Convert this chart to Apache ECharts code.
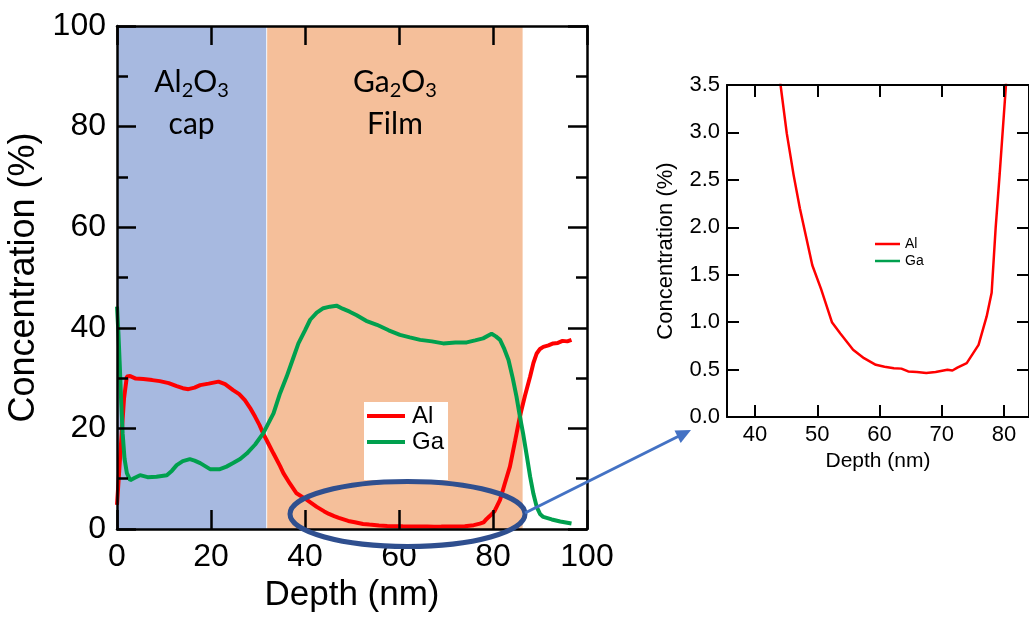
<!DOCTYPE html>
<html>
<head>
<meta charset="utf-8">
<title>Depth profile</title>
<script src="https://cdn.jsdelivr.net/npm/echarts@6.0.0/dist/echarts.min.js"></script>
<style>
  html, body { margin: 0; padding: 0; background: #fff; }
  #chart { width: 1029px; height: 618px; }
</style>
</head>
<body>
<div id="chart"></div>
<script>
// Al profile (depth nm, concentration %)
const alDepth = [0.0, 0.5, 1.0, 1.5, 2.1, 2.8, 4.0, 5.6, 7.5, 9.1, 11.0, 12.7, 14.0, 15.2, 16.5, 17.7, 19.5, 21.6, 23.0, 24.7,
  26.0, 27.2, 28.3, 29.4, 30.3, 31.1, 32.2, 33.3, 34.7, 35.4, 36.8, 38.2, 40.4, 42.5, 44.1, 45.1, 46.2, 47.2, 48.2, 49.2,
  50.6, 52.35, 53.7, 55.75, 57.5, 59.4, 60.8, 62.3, 63.5, 64.6, 66.0, 67.5, 69.0, 70.9, 71.7, 72.5, 74.0, 75.9, 77.2, 78.0,
  78.65, 79.3, 80.3, 81.5, 82.5, 83.6, 84.7, 85.7, 86.8, 87.9, 88.6, 89.3, 90.0, 90.7, 91.8, 92.8, 93.8, 94.8, 95.8, 96.7]
const alConc = [4.8, 12, 19, 26, 30.3, 30.4, 29.9, 29.8, 29.6, 29.4, 29.0, 28.4, 28.0, 27.8, 28.1, 28.6, 28.9, 29.3, 28.8, 27.6,
  26.8, 25.6, 24.1, 22.3, 20.7, 19.0, 17.0, 15.0, 12.5, 11.1, 9.0, 7.1, 5.8, 4.4, 3.5, 2.99, 2.55, 2.2, 1.9, 1.6,
  1.35, 1.0, 0.88, 0.71, 0.62, 0.55, 0.53, 0.515, 0.51, 0.48, 0.475, 0.463, 0.475, 0.498, 0.49, 0.52, 0.568, 0.76, 1.06, 1.31,
  2.0, 2.57, 3.5, 5.8, 9.0, 12.4, 17.5, 22.3, 26.5, 30.3, 33.0, 34.9, 35.8, 36.2, 36.5, 36.9, 37.0, 37.4, 37.3, 37.6]

// Ga profile
const gaDepth = [0.0, 0.3, 0.6, 0.9, 1.2, 1.6, 2.1, 2.8, 3.8, 4.9, 6.5, 8.4, 10.6, 11.7, 12.7, 14.0, 15.5, 16.5, 17.7, 19.8,
  21.9, 23.3, 24.7, 26.2, 27.6, 29.4, 31.1, 32.2, 33.3, 34.7, 36.1, 37.5, 38.6, 40.0, 41.1, 42.5, 43.9, 45.3, 46.7, 48.0,
  49.5, 51.0, 53.0, 55.3, 57.8, 60.2, 62.3, 64.5, 67.0, 69.4, 72.0, 74.4, 76.2, 77.9, 79.7, 80.6, 81.5, 82.4, 83.3, 84.2,
  85.0, 85.7, 86.4, 87.2, 87.9, 88.6, 89.3, 90.0, 90.7, 92.5, 94.3, 95.5, 96.7]
const gaConc = [44.2, 39, 32.3, 25, 19, 14, 11.1, 9.7, 10.2, 10.7, 10.3, 10.4, 10.7, 11.6, 12.7, 13.5, 13.9, 13.6, 13.1, 11.9,
  11.9, 12.4, 13.1, 13.9, 15.0, 16.8, 19.0, 21.0, 23.0, 27.0, 30.3, 34.0, 36.9, 39.5, 41.6, 43.0, 43.9, 44.2, 44.4, 43.8,
  43.2, 42.5, 41.4, 40.6, 39.5, 38.6, 38.1, 37.6, 37.3, 36.9, 37.1, 37.1, 37.5, 37.9, 38.8, 38.3, 37.6, 35.8, 33.6, 30.0,
  26.3, 22.5, 19.0, 14.5, 10.4, 7.0, 4.4, 3.0, 2.4, 1.9, 1.5, 1.3, 1.1]

// layer boundaries (nm)
const capLayer = [0, 31.75]
const filmLayer = [31.95, 86.3]
const insetTicks = [40, 50, 60, 70, 80]

const RED = '#ff0000'
const GREEN = '#00a04e'
const FONT = '"Liberation Sans", Arial, sans-serif'
const LABEL_FONT = 'Lato, "Open Sans", sans-serif'

const zip = (xs, ys) => xs.map((x, i) => [x, ys[i]])
const alData = zip(alDepth, alConc)
const gaData = zip(gaDepth, gaConc)

// "X2O3" with subscripts, second line underneath
const bandLabel = (metal, second) => ({
  show: true,
  position: 'insideTop',
  distance: 35,
  formatter: `{n|${metal}}{s|2}{n|O}{s|3}\n{n|${second}}`,
  rich: {
    n: { fontSize: 30, lineHeight: 42, fontFamily: LABEL_FONT, color: '#000' },
    s: { fontSize: 20, padding: [18, 0, 0, 0], fontFamily: LABEL_FONT, color: '#000' }
  }
})

const frameLine = (w) => ({ show: true, onZero: false, lineStyle: { color: '#000', width: w } })

const chart = echarts.init(document.getElementById('chart'), null, { renderer: 'canvas' })

const option = {
  animation: false,
  backgroundColor: '#fff',
  textStyle: { fontFamily: FONT, color: '#000' },
  grid: [
    { left: 117, top: 26, width: 470, height: 503 },
    { left: 727, top: 85, width: 309, height: 332 }
  ],
  legend: [
    {
      data: [{ name: 'Al', icon: 'rect' }, { name: 'Ga', icon: 'rect' }],
      orient: 'vertical',
      left: 364,
      top: 402,
      backgroundColor: '#fff',
      padding: [2, 4, 26, 3],
      itemWidth: 38,
      itemHeight: 4,
      itemGap: 2,
      textStyle: { fontSize: 24, lineHeight: 24, fontFamily: FONT, color: '#000', padding: [0, 0, 0, 2] },
      selectedMode: false
    },
    {
      data: [{ name: 'Al', icon: 'rect' }, { name: 'Ga', icon: 'rect' }],
      orient: 'vertical',
      left: 875,
      top: 237,
      padding: 0,
      itemWidth: 25,
      itemHeight: 2.5,
      itemGap: 3,
      textStyle: { fontSize: 14, lineHeight: 14, fontFamily: FONT, color: '#000' },
      selectedMode: false
    }
  ],
  xAxis: [
    {
      gridIndex: 0, type: 'value', min: 0, max: 100, interval: 20, position: 'bottom', z: 5,
      name: 'Depth (nm)', nameLocation: 'middle', nameGap: 40,
      nameTextStyle: { fontSize: 35, fontFamily: FONT, color: '#000' },
      axisLine: frameLine(2.5),
      axisTick: { inside: true, length: 19, lineStyle: { color: '#000', width: 2.5 } },
      axisLabel: { fontSize: 32, margin: 12, color: '#000', fontFamily: FONT },
      splitLine: { show: false }
    },
    {
      gridIndex: 0, type: 'value', min: 0, max: 100, interval: 20, position: 'top', z: 5,
      axisLine: frameLine(2.5),
      axisTick: { inside: true, length: 19, lineStyle: { color: '#000', width: 2.5 } },
      axisLabel: { show: false },
      splitLine: { show: false }
    },
    {
      gridIndex: 1, type: 'value', min: 35.5, max: 84, position: 'bottom', z: 5,
      name: 'Depth (nm)', nameLocation: 'middle', nameGap: 33,
      nameTextStyle: { fontSize: 21, fontFamily: FONT, color: '#000' },
      axisLine: frameLine(2),
      axisTick: { inside: true, length: 12, customValues: insetTicks, lineStyle: { color: '#000', width: 2 } },
      axisLabel: { fontSize: 22, margin: 7, color: '#000', fontFamily: FONT, customValues: insetTicks },
      splitLine: { show: false }
    },
    {
      gridIndex: 1, type: 'value', min: 35.5, max: 84, position: 'top', z: 5,
      axisLine: frameLine(2),
      axisTick: { inside: true, length: 12, customValues: insetTicks, lineStyle: { color: '#000', width: 2 } },
      axisLabel: { show: false },
      splitLine: { show: false }
    }
  ],
  yAxis: [
    {
      gridIndex: 0, type: 'value', min: 0, max: 100, interval: 20, position: 'left', z: 5,
      name: 'Concentration (%)', nameLocation: 'middle', nameGap: 75,
      nameTextStyle: { fontSize: 36, fontFamily: FONT, color: '#000' },
      axisLine: frameLine(2.5),
      axisTick: { inside: true, length: 19, lineStyle: { color: '#000', width: 2.5 } },
      minorTick: { show: true, splitNumber: 2, length: 11, lineStyle: { color: '#000', width: 2.5 } },
      axisLabel: { fontSize: 32, margin: 11, color: '#000', fontFamily: FONT },
      splitLine: { show: false }
    },
    {
      gridIndex: 0, type: 'value', min: 0, max: 100, interval: 20, position: 'right', z: 5,
      axisLine: frameLine(2.5),
      axisTick: { inside: true, length: 19, lineStyle: { color: '#000', width: 2.5 } },
      minorTick: { show: true, splitNumber: 2, length: 11, lineStyle: { color: '#000', width: 2.5 } },
      axisLabel: { show: false },
      splitLine: { show: false }
    },
    {
      gridIndex: 1, type: 'value', min: 0, max: 3.5, interval: 0.5, position: 'left', z: 5,
      name: 'Concentration (%)', nameLocation: 'middle', nameGap: 50,
      nameTextStyle: { fontSize: 22, fontFamily: FONT, color: '#000' },
      axisLine: frameLine(2),
      axisTick: { inside: true, length: 12, lineStyle: { color: '#000', width: 2 } },
      axisLabel: { fontSize: 22, margin: 7, color: '#000', fontFamily: FONT, formatter: v => v.toFixed(1) },
      splitLine: { show: false }
    },
    {
      gridIndex: 1, type: 'value', min: 0, max: 3.5, interval: 0.5, position: 'right', z: 5,
      axisLine: frameLine(2),
      axisTick: { inside: true, length: 12, lineStyle: { color: '#000', width: 2 } },
      axisLabel: { show: false },
      splitLine: { show: false }
    }
  ],
  series: [
    {
      name: 'Al', type: 'line', xAxisIndex: 0, yAxisIndex: 0,
      data: alData, symbol: 'none', color: RED,
      lineStyle: { color: RED, width: 4 },
      markArea: {
        silent: true,
        data: [
          [{ xAxis: capLayer[0], itemStyle: { color: '#a7b9e0' }, label: bandLabel('Al', 'cap') }, { xAxis: capLayer[1] }],
          [{ xAxis: filmLayer[0], itemStyle: { color: '#f5bf9a' }, label: bandLabel('Ga', 'Film') }, { xAxis: filmLayer[1] }]
        ]
      }
    },
    {
      name: 'Ga', type: 'line', xAxisIndex: 0, yAxisIndex: 0,
      data: gaData, symbol: 'none', color: GREEN,
      lineStyle: { color: GREEN, width: 4 }
    },
    {
      name: 'Al', type: 'line', xAxisIndex: 2, yAxisIndex: 2,
      data: alData, symbol: 'none', color: RED, clip: true,
      lineStyle: { color: RED, width: 2.5 }
    },
    {
      name: 'Ga', type: 'line', xAxisIndex: 2, yAxisIndex: 2,
      data: gaData, symbol: 'none', color: GREEN, clip: true,
      lineStyle: { color: GREEN, width: 2.5 }
    }
  ],
  graphic: [
    // zoom-in ellipse round the low-Al region and the arrow to the inset
    {
      type: 'ellipse', z: 100,
      shape: { cx: 407.5, cy: 514, rx: 117.5, ry: 32.5 },
      style: { fill: 'none', stroke: '#2f4f8f', lineWidth: 5 }
    },
    {
      type: 'line', z: 100,
      shape: { x1: 525, y1: 513, x2: 679, y2: 436 },
      style: { stroke: '#4472c4', lineWidth: 3 }
    },
    {
      type: 'polygon', z: 100,
      shape: { points: [[691, 430], [680.7, 443], [674.5, 430.4]] },
      style: { fill: '#4472c4' }
    }
  ]
}

chart.setOption(option)
</script>
</body>
</html>
